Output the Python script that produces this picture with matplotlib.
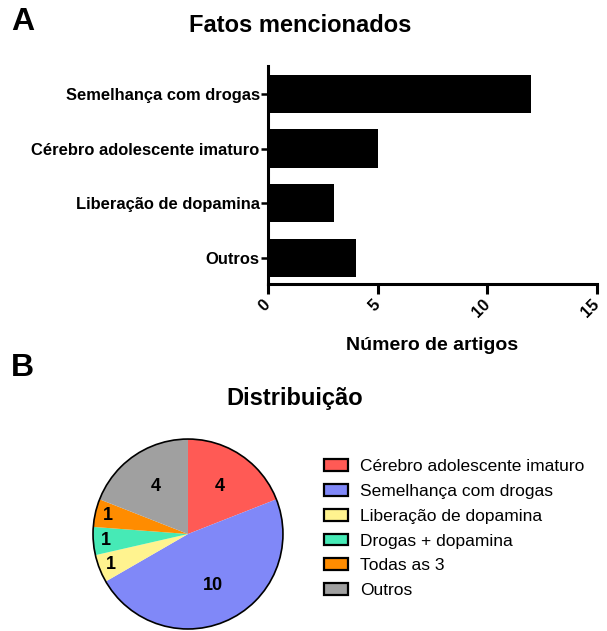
import numpy as np
import matplotlib.pyplot as plt
from matplotlib.patches import Patch, Circle

plt.rcParams['font.family'] = ['Liberation Sans', 'DejaVu Sans']

# painel A
fatos = ['Semelhança com drogas', 'Cérebro adolescente imaturo',
         'Liberação de dopamina', 'Outros']
n_artigos = [12, 5, 3, 4]
x_ticks = [0, 5, 10, 15]

# painel B
categorias = ['Cérebro adolescente imaturo', 'Semelhança com drogas',
              'Liberação de dopamina', 'Drogas + dopamina', 'Todas as 3', 'Outros']
contagens = [4, 10, 1, 1, 1, 4]
cores = ['#ff5a55', '#8088f8', '#fff38f', '#46eab6', '#ff8c00', '#a0a0a0']

fig = plt.figure(figsize=(6.07, 6.31), dpi=100)

# --- A: barras horizontais
ax = fig.add_axes([0.4415, 0.5499, 0.542, 0.3455])
pos = np.arange(len(fatos))[::-1]
ax.barh(pos, n_artigos, height=0.7, color='black')
ax.set_xlim(0, 15)
ax.set_ylim(-0.48, 3.51)
ax.set_yticks(pos)
ax.set_yticklabels(fatos, fontsize=11.9, fontweight='bold')
ax.set_xticks(x_ticks)
ax.set_xticklabels([str(t) for t in x_ticks], fontsize=11.9, fontweight='bold',
                   rotation=45, ha='right', va='center', rotation_mode='anchor')
ax.tick_params(axis='x', length=7, width=2.2, pad=6)
ax.tick_params(axis='y', length=5, width=1.8, pad=1)
for s in ['top', 'right']:
    ax.spines[s].set_visible(False)
for s in ['left', 'bottom']:
    ax.spines[s].set_linewidth(2.2)
ax.set_xlabel('Número de artigos', fontsize=14, fontweight='bold', labelpad=12)

fig.text(0.018, 0.965, 'A', fontsize=23, fontweight='bold', va='center', ha='left')
fig.text(0.495, 0.96, 'Fatos mencionados', fontsize=17, fontweight='bold',
         va='center', ha='center')

# --- B: pizza
fig.text(0.018, 0.417, 'B', fontsize=23, fontweight='bold', va='center', ha='left')
fig.text(0.486, 0.369, 'Distribuição', fontsize=17, fontweight='bold',
         va='center', ha='center')

axp = fig.add_axes([0.1532, 0.0032, 0.313, 0.301])
wedges, _ = axp.pie(contagens, colors=cores, startangle=90, counterclock=False,
                    radius=1, wedgeprops=dict(linewidth=0))
axp.add_patch(Circle((0, 0), 1, fill=False, edgecolor='black', linewidth=1.2,
                     clip_on=False))
for w, c in zip(wedges, contagens):
    ang = np.deg2rad((w.theta1 + w.theta2) / 2)
    r = 0.6 if c > 1 else 0.87
    axp.text(r * np.cos(ang), r * np.sin(ang), str(c), fontsize=13,
             fontweight='bold', ha='center', va='center')
axp.set_xlim(-1, 1)
axp.set_ylim(-1, 1)
axp.set_aspect('equal')
axp.axis('off')
for w in wedges:
    w.set_clip_on(False)

handles = [Patch(facecolor=c, edgecolor='black', linewidth=1.6) for c in cores]
fig.legend(handles, categorias, loc='upper left', bbox_to_anchor=(0.533, 0.272),
           frameon=False, fontsize=12.5, handlelength=1.4, handleheight=0.65,
           handletextpad=0.7, labelspacing=0.56, borderaxespad=0, borderpad=0)

fig.savefig('out.png', dpi=100)
